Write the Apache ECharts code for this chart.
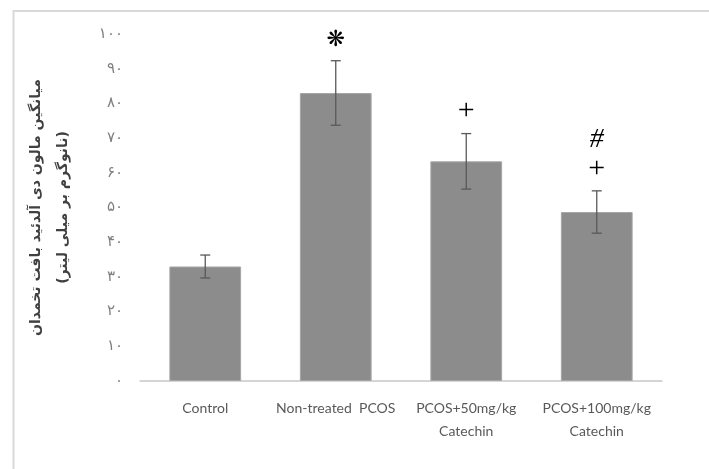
<!DOCTYPE html>
<html>
<head>
<meta charset="utf-8">
<script src="https://cdn.jsdelivr.net/npm/echarts@6/dist/echarts.min.js"></script>
<style>html,body{margin:0;padding:0;background:#fff;}#c{width:709px;height:469px;}</style>
</head>
<body>
<div id="c"></div>
<script>
var categories = ['Control', 'Non-treated  PCOS', 'PCOS+50mg/kg\nCatechin', 'PCOS+100mg/kg\nCatechin'];
var means = [33, 83, 63.3, 48.7];
var errors = [3.3, 9.3, 8, 6.1];
var annotations = [[], ['❋'], ['+'], ['+', '#']];
var yTickLabels = ['۰', '۱۰', '۲۰', '۳۰', '۴۰', '۵۰', '۶۰', '۷۰', '۸۰', '۹۰', '۱۰۰'];
var yAxisTitle = 'میانگین مالون دی آلدئید بافت تخمدان\n(نانوگرم بر میلی لیتر)';

var chart = echarts.init(document.getElementById('c'), null, {renderer: 'canvas'});

var errData = means.map(function (m, i) { return [i, m, errors[i]]; });
var annData = annotations.map(function (a, i) { return [i, means[i] + errors[i], a.length]; });

var symbolStyles = {
  '❋': {font: 'normal 22px "DejaVu Sans"', first: 20, gap: 21},
  '+': {font: 'normal 30px "Liberation Serif"', first: 22, gap: 22},
  '#': {font: 'italic 28px "Liberation Serif"', first: 22, gap: 29}
};

var option = {
  backgroundColor: '#fff',
  animation: false,
  grid: {left: 140, right: 47, top: 34, bottom: 88},
  xAxis: {
    type: 'category',
    data: categories,
    axisLine: {lineStyle: {color: '#c8c8c8', width: 1.5}},
    axisTick: {show: false},
    axisLabel: {
      color: '#595959',
      fontFamily: 'Lato',
      fontSize: 14,
      lineHeight: 23,
      margin: 16,
      interval: 0
    }
  },
  yAxis: {
    type: 'value',
    min: 0,
    max: 100,
    interval: 10,
    splitLine: {show: false},
    axisLine: {show: false},
    axisTick: {show: false},
    axisLabel: {
      color: '#7f7f7f',
      fontFamily: 'DejaVu Sans',
      fontSize: 15,
      margin: 17,
      formatter: function (v) { return yTickLabels[Math.round(v / 10)]; }
    },
    name: yAxisTitle,
    nameLocation: 'middle',
    nameRotate: 90,
    nameGap: 63,
    nameTextStyle: {
      color: '#404040',
      fontFamily: 'DejaVu Sans',
      fontWeight: 'bold',
      fontSize: 14,
      lineHeight: 27
    }
  },
  series: [
    {
      type: 'bar',
      data: means,
      barWidth: '55%',
      itemStyle: {color: '#8c8c8c', borderColor: '#a6a6a6', borderWidth: 1}
    },
    {
      type: 'custom',
      data: errData,
      z: 5,
      renderItem: function (params, api) {
        var x = api.value(0), m = api.value(1), e = api.value(2);
        var top = api.coord([x, m + e]);
        var bot = api.coord([x, m - e]);
        var cw = 5;
        var st = {stroke: '#595959', lineWidth: 1.3};
        return {
          type: 'group',
          children: [
            {type: 'line', shape: {x1: top[0], y1: top[1], x2: bot[0], y2: bot[1]}, style: st},
            {type: 'line', shape: {x1: top[0] - cw, y1: top[1], x2: top[0] + cw, y2: top[1]}, style: st},
            {type: 'line', shape: {x1: bot[0] - cw, y1: bot[1], x2: bot[0] + cw, y2: bot[1]}, style: st}
          ]
        };
      }
    },
    {
      type: 'custom',
      data: annData,
      z: 6,
      renderItem: function (params, api) {
        var i = params.dataIndex;
        var p = api.coord([api.value(0), api.value(1)]);
        var list = annotations[i];
        var children = [];
        var y = p[1];
        for (var k = 0; k < list.length; k++) {
          var s = symbolStyles[list[k]];
          y -= (k === 0 ? s.first : s.gap);
          children.push({
            type: 'text',
            x: p[0],
            y: y,
            style: {text: list[k], font: s.font, fill: '#000', align: 'center', verticalAlign: 'middle'}
          });
        }
        return {type: 'group', children: children};
      }
    }
  ],
  graphic: [
    {type: 'line', shape: {x1: 13.5, y1: 10, x2: 13.5, y2: 469}, style: {stroke: '#d9d9d9', lineWidth: 2}, silent: true},
    {type: 'line', shape: {x1: 13, y1: 11, x2: 709, y2: 11}, style: {stroke: '#d9d9d9', lineWidth: 2}, silent: true}
  ]
};
chart.setOption(option);
</script>
</body>
</html>
